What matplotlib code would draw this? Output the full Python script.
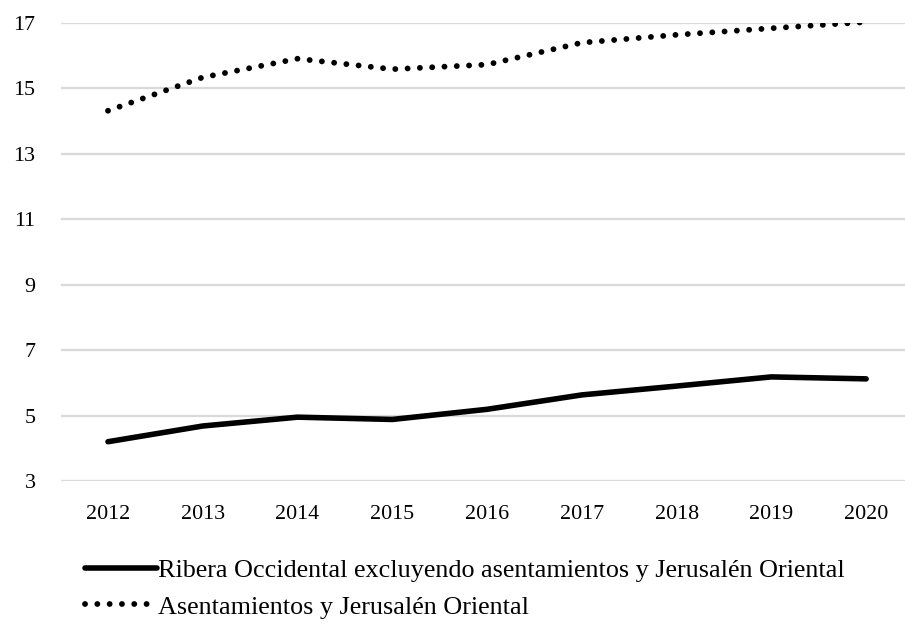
import matplotlib
matplotlib.use('Agg')
import matplotlib.pyplot as plt

years = ['2012', '2013', '2014', '2015', '2016', '2017', '2018', '2019', '2020']
ribera = [4.20, 4.68, 4.95, 4.88, 5.19, 5.63, 5.90, 6.18, 6.12]
asentamientos = [14.31, 15.33, 15.90, 15.58, 15.72, 16.39, 16.63, 16.83, 17.02]
yticks = [3, 5, 7, 9, 11, 13, 15, 17]

label_ribera = 'Ribera Occidental excluyendo asentamientos y Jerusalén Oriental'
label_asent = 'Asentamientos y Jerusalén Oriental'

plt.rcParams['font.family'] = ['Liberation Serif', 'DejaVu Serif']

fig = plt.figure(figsize=(9.05, 6.23), dpi=100)
# plot area in pixel coordinates of the reference
left, right_px, top_px, bottom_px = 60.6, 905, 22.7, 481
ax = fig.add_axes([left / 905, 1 - bottom_px / 623,
                   (right_px - left) / 905, (bottom_px - top_px) / 623])

x = list(range(len(years)))
ax.plot(x, ribera, color='black', lw=4.0, solid_capstyle='round',
        solid_joinstyle='round', label=label_ribera, zorder=3)
ax.plot(x, asentamientos, color='black', lw=4.2, linestyle=(0, (0.01, 2.1)),
        dash_capstyle='round', label=label_asent, zorder=3)

ax.set_ylim(3, 17)
ax.set_xlim(-0.5, 8.41)
ax.set_yticks(yticks)
ax.set_xticks(x)
ax.set_xticklabels(years)
ax.yaxis.grid(True, color='#d9d9d9', lw=1.6)
ax.set_axisbelow(True)
for s in ax.spines.values():
    s.set_visible(False)
ax.tick_params(axis='both', length=0, labelsize=15.8)
ax.tick_params(axis='y', pad=18)
ax.tick_params(axis='x', pad=17)

fig.legend(loc='center left', bbox_to_anchor=(85 / 905, 0.055), frameon=False,
           fontsize=18.8, handlelength=2.75, handletextpad=0.05, labelspacing=0.5,
           borderpad=0, borderaxespad=0)

fig.savefig('out.png', dpi=100, facecolor='white')
